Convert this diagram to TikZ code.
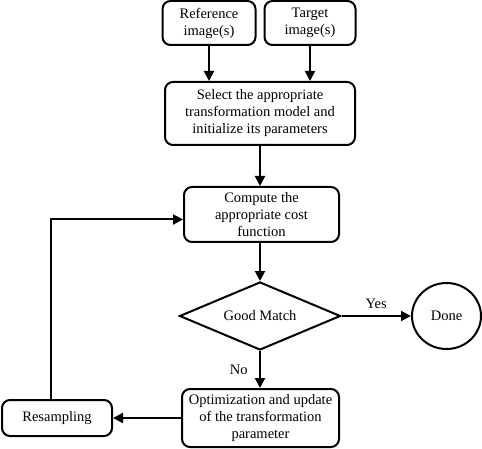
\documentclass[tikz,border=0pt]{standalone}
\usepackage{fontspec}
\setmainfont{Liberation Serif}
\usetikzlibrary{shapes.geometric,arrows.meta}
\begin{document}
\begin{tikzpicture}[x=1pt,y=-1pt,
  every node/.style={font=\fontsize{14.5}{17}\selectfont},
  box/.style={draw,line width=2pt,rounded corners=8pt,align=center,inner sep=0pt},
  flow/.style={line width=2pt,-{Triangle[length=10pt,width=10pt]}}]
\useasboundingbox (0,0) rectangle (482,449);
\node[box,minimum width=93,minimum height=44] (ref) at (209,23) {Reference\\image(s)};
\node[box,minimum width=91,minimum height=44] (tgt) at (310,23) {Target\\image(s)};
\node[box,minimum width=190,minimum height=63] (sel) at (260,113.5) {Select the appropriate\\transformation model and\\initialize its parameters};
\node[box,minimum width=155,minimum height=55] (cmp) at (261.5,214.5) {Compute the\\appropriate cost\\function};
\node[draw,diamond,line width=2pt,aspect=2.37,minimum width=161,minimum height=68,inner sep=0pt] (dia) at (260,316) {Good Match};
\node[draw,ellipse,line width=2pt,minimum width=69,minimum height=66,inner sep=0pt] (done) at (446.5,316) {Done};
\node[box,minimum width=157,minimum height=58] (opt) at (260.5,418) {Optimization and update\\of the transformation\\parameter};
\node[box,minimum width=110,minimum height=36] (res) at (57,418) {Resampling};

\draw[flow] (ref.south) -- (ref.south |- sel.north);
\draw[flow] (tgt.south) -- (tgt.south |- sel.north);
\draw[flow] (sel.south) -- (sel.south |- cmp.north);
\draw[flow] (dia.north |- cmp.south) -- (dia.north);
\draw[flow] (dia.east) -- node[above=3pt] (yes) {Yes} (done.west);
\draw[flow] (dia.south) -- node[left=8pt] (no) {No} (dia.south |- opt.north);
\draw[flow] (opt.west) -- (res.east);
\draw[flow] ([xshift=-6]res.north) |- ([yshift=-5]cmp.west);
\end{tikzpicture}
\end{document}
